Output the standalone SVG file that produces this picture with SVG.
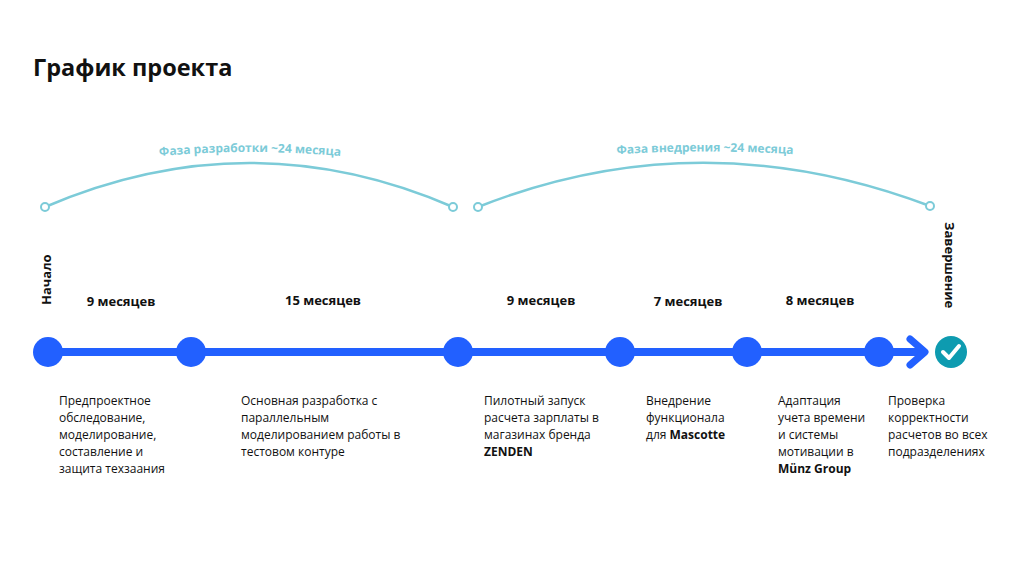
<svg xmlns="http://www.w3.org/2000/svg" width="1024" height="576" viewBox="0 0 1024 576">
<style>
text{font-family:"Open Sans","Noto Sans",sans-serif;fill:#111}
.t{font-size:23.5px;font-weight:700}
.m{font-size:13px;font-weight:700}
.d{font-size:12px}
.ph{font-size:12px;font-weight:700;fill:#7ccbd8}
.arc{fill:none;stroke:#7ccbd8;stroke-width:2.5}
.end{fill:#fff;stroke:#7ccbd8;stroke-width:2}
.n{fill:#2260ff}
</style>
<rect width="1024" height="576" fill="#fff"/>
<text class="t" x="33" y="76">График проекта</text>
<defs>
<path id="p1" d="M45,207 Q250,119 453,207"/>
<path id="p2" d="M478,207 Q700,119 930,206"/>
<path id="tp1" d="M40,174 Q250,130 460,174"/>
<path id="tp2" d="M470,171 Q705,132 940,171"/>
</defs>
<g id="phases">
<use href="#p1" class="arc"/>
<use href="#p2" class="arc"/>
<circle class="end" cx="45" cy="207" r="4"/>
<circle class="end" cx="453" cy="207" r="4"/>
<circle class="end" cx="478" cy="207" r="4"/>
<circle class="end" cx="930" cy="206" r="4"/>
<text class="ph"><textPath href="#tp1" startOffset="50%" text-anchor="middle">Фаза разработки ~24 месяца</textPath></text>
<text class="ph"><textPath href="#tp2" startOffset="50%" text-anchor="middle">Фаза внедрения ~24 месяца</textPath></text>
</g>
<g id="connectors">
<line x1="48" y1="352" x2="922" y2="352" stroke="#2260ff" stroke-width="8"/>
<polyline points="910,339 925,352 910,365" fill="none" stroke="#2260ff" stroke-width="7" stroke-linecap="round" stroke-linejoin="round"/>
</g>
<g id="n1"><circle class="n" cx="48" cy="352" r="15"/></g>
<g id="n2"><circle class="n" cx="191" cy="352" r="15"/></g>
<g id="n3"><circle class="n" cx="458" cy="352" r="15"/></g>
<g id="n4"><circle class="n" cx="620" cy="352" r="15"/></g>
<g id="n5"><circle class="n" cx="747" cy="352" r="15"/></g>
<g id="n6"><circle class="n" cx="879" cy="352" r="15"/></g>
<g id="done"><circle cx="951" cy="352" r="16" fill="#0e9bb0"/><polyline points="943,352 949,358 959,346" fill="none" stroke="#fff" stroke-width="4" stroke-linecap="round" stroke-linejoin="round"/></g>
<text class="m" transform="translate(51,305) rotate(-90)">Начало</text>
<text class="m" transform="translate(945,222) rotate(90)">Завершение</text>
<text class="m" x="121" y="306" text-anchor="middle">9 месяцев</text>
<text class="m" x="323" y="305" text-anchor="middle">15 месяцев</text>
<text class="m" x="541" y="305" text-anchor="middle">9 месяцев</text>
<text class="m" x="688" y="306" text-anchor="middle">7 месяцев</text>
<text class="m" x="820" y="305" text-anchor="middle">8 месяцев</text>
<text class="d"><tspan x="59" y="405">Предпроектное</tspan><tspan x="59" y="422">обследование,</tspan><tspan x="59" y="439">моделирование,</tspan><tspan x="59" y="456">составление и</tspan><tspan x="59" y="473">защита техзаания</tspan></text>
<text class="d"><tspan x="241" y="405">Основная разработка с</tspan><tspan x="241" y="422">параллельным</tspan><tspan x="241" y="439">моделированием работы в</tspan><tspan x="241" y="456">тестовом контуре</tspan></text>
<text class="d"><tspan x="484" y="405">Пилотный запуск</tspan><tspan x="484" y="422">расчета зарплаты в</tspan><tspan x="484" y="439">магазинах бренда</tspan><tspan x="484" y="456" font-weight="700">ZENDEN</tspan></text>
<text class="d"><tspan x="646" y="405">Внедрение</tspan><tspan x="646" y="422">функционала</tspan><tspan x="646" y="439">для <tspan font-weight="700">Mascotte</tspan></tspan></text>
<text class="d"><tspan x="778" y="405">Адаптация</tspan><tspan x="778" y="422">учета времени</tspan><tspan x="778" y="439">и системы</tspan><tspan x="778" y="456">мотивации в</tspan><tspan x="778" y="473" font-weight="700">Münz Group</tspan></text>
<text class="d"><tspan x="888" y="405">Проверка</tspan><tspan x="888" y="422">корректности</tspan><tspan x="888" y="439">расчетов во всех</tspan><tspan x="888" y="456">подразделениях</tspan></text>
</svg>
